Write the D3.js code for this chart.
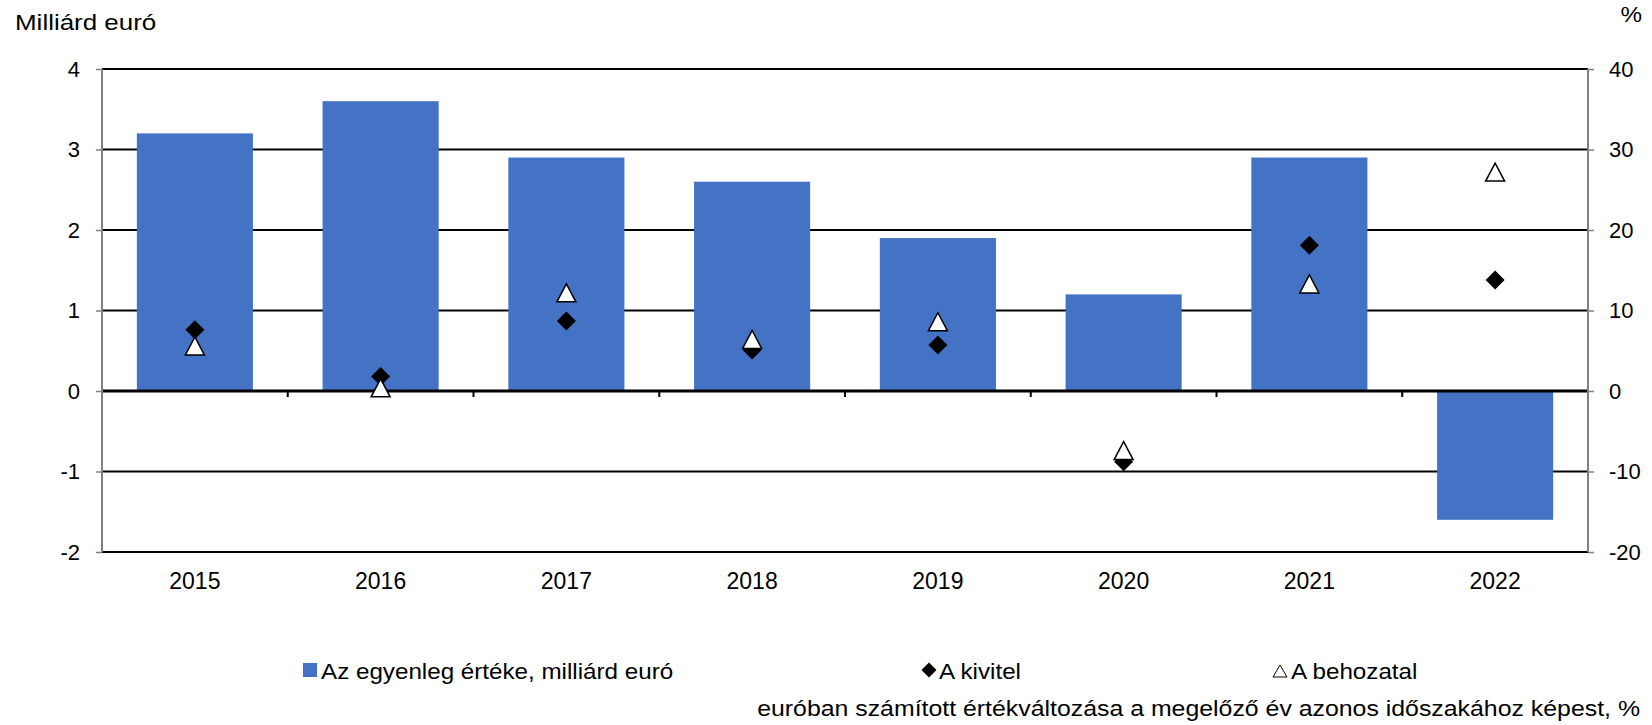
<!DOCTYPE html>
<html>
<head>
<meta charset="utf-8">
<script src="https://cdn.jsdelivr.net/npm/d3@7"></script>
<style>
  body { margin: 0; background: #fff; }
  svg { font-family: "Liberation Sans", Arial, sans-serif; }
</style>
</head>
<body>
<script>
// data
var years = ["2015", "2016", "2017", "2018", "2019", "2020", "2021", "2022"];
var balance = [3.2, 3.6, 2.9, 2.6, 1.9, 1.2, 2.9, -1.6];   // milliárd euró
var exports = [7.6, 1.8, 8.7, 5.1, 5.7, -8.8, 18.1, 13.8];  // %
var imports = [5.6, 0.4, 12.2, 6.4, 8.6, -7.4, 13.3, 27.2]; // %
var leftTicks = [-2, -1, 0, 1, 2, 3, 4];
var rightTicks = [-20, -10, 0, 10, 20, 30, 40];

var W = 1652, H = 725;
var margin = {top: 69, right: 64, bottom: 173, left: 102},
    width = W - margin.left - margin.right,
    height = H - margin.top - margin.bottom;

var svg = d3.select("body").append("svg")
    .attr("width", W)
    .attr("height", H);

var g = svg.append("g")
    .attr("transform", "translate(" + margin.left + "," + margin.top + ")");

// scales
var x = d3.scaleBand().domain(years).range([0, width]).padding(0);
var yL = d3.scaleLinear().domain([-2, 4]).range([height, 0]);
var yR = d3.scaleLinear().domain([-20, 40]).range([height, 0]);
var barW = x.bandwidth() * 0.625;
var fmt = function(d) { return String(d); }; // plain hyphen, as in the original

// gridlines
g.selectAll(".grid")
    .data(leftTicks)
  .enter().append("line")
    .attr("class", "grid")
    .attr("x1", 0)
    .attr("x2", width)
    .attr("y1", function(d) { return yL(d); })
    .attr("y2", function(d) { return yL(d); })
    .attr("stroke", "#000")
    .attr("stroke-width", 2);

// bars
g.selectAll(".bar")
    .data(balance)
  .enter().append("rect")
    .attr("class", "bar")
    .attr("x", function(d, i) { return x(years[i]) + (x.bandwidth() - barW) / 2; })
    .attr("width", barW)
    .attr("y", function(d) { return yL(Math.max(0, d)); })
    .attr("height", function(d) { return Math.abs(yL(d) - yL(0)); })
    .attr("fill", "#4472C4");

// zero line on top of bars
g.append("line")
    .attr("x1", 0).attr("x2", width)
    .attr("y1", yL(0)).attr("y2", yL(0))
    .attr("stroke", "#000")
    .attr("stroke-width", 3);

// category tick marks on the zero line
var bounds = years.map(function(d) { return x(d); }).concat([width]);
g.selectAll(".ctick")
    .data(bounds)
  .enter().append("line")
    .attr("class", "ctick")
    .attr("x1", function(d) { return d; })
    .attr("x2", function(d) { return d; })
    .attr("y1", yL(0))
    .attr("y2", yL(0) + 6)
    .attr("stroke", "#000")
    .attr("stroke-width", 2);

// left axis
var leftAxis = g.append("g")
    .call(d3.axisLeft(yL).tickValues(leftTicks).tickSize(6).tickPadding(16).tickFormat(fmt));
leftAxis.select(".domain").attr("stroke", "#808080").attr("stroke-width", 2).attr("d", "M0," + yL(4) + "V" + yL(-2));
leftAxis.selectAll(".tick line").attr("stroke", "#808080").attr("stroke-width", 1.5);
leftAxis.selectAll(".tick text").attr("font-size", "22px").attr("fill", "#000")
    .attr("font-family", "Liberation Sans, Arial, sans-serif");

// right axis
var rightAxis = g.append("g")
    .attr("transform", "translate(" + width + ",0)")
    .call(d3.axisRight(yR).tickValues(rightTicks).tickSize(6).tickPadding(15).tickFormat(fmt));
rightAxis.select(".domain").attr("stroke", "#808080").attr("stroke-width", 2).attr("d", "M0," + yR(40) + "V" + yR(-20));
rightAxis.selectAll(".tick line").attr("stroke", "#808080").attr("stroke-width", 1.5);
rightAxis.selectAll(".tick text").attr("font-size", "22px").attr("fill", "#000")
    .attr("font-family", "Liberation Sans, Arial, sans-serif");

// category labels
g.selectAll(".xlab")
    .data(years)
  .enter().append("text")
    .attr("class", "xlab")
    .attr("x", function(d) { return x(d) + x.bandwidth() / 2; })
    .attr("y", height + 37)
    .attr("text-anchor", "middle")
    .attr("font-size", "23px")
    .text(function(d) { return d; });

// marker shapes
function diamondPath(r) {
  return "M0," + (-r) + "L" + r + ",0L0," + r + "L" + (-r) + ",0Z";
}
function trianglePath(w, h) {
  return "M0," + (-h / 2) + "L" + (w / 2) + "," + (h / 2) + "L" + (-w / 2) + "," + (h / 2) + "Z";
}

// A kivitel
g.selectAll(".exp")
    .data(exports)
  .enter().append("path")
    .attr("class", "exp")
    .attr("d", diamondPath(9.5))
    .attr("transform", function(d, i) {
      return "translate(" + (x(years[i]) + x.bandwidth() / 2) + "," + yR(d) + ")";
    })
    .attr("fill", "#000");

// A behozatal
g.selectAll(".imp")
    .data(imports)
  .enter().append("path")
    .attr("class", "imp")
    .attr("d", trianglePath(19, 18))
    .attr("transform", function(d, i) {
      return "translate(" + (x(years[i]) + x.bandwidth() / 2) + "," + yR(d) + ")";
    })
    .attr("fill", "#fff")
    .attr("stroke", "#000")
    .attr("stroke-width", 1.5);

// text helper: the original type is a bit wider than Arial
function label(parent, tx, ty, anchor, s, sx) {
  return parent.append("text")
      .attr("transform", "translate(" + tx + "," + ty + ") scale(" + (sx || 1.1) + ",1)")
      .attr("text-anchor", anchor)
      .attr("font-size", "22px")
      .text(s);
}

// axis titles
label(svg, 15, 30, "start", "Milliárd euró", 1.18);
label(svg, 1642, 22, "end", "%");

// legend
var leg = svg.append("g");
leg.append("rect")
    .attr("x", 303).attr("y", 663)
    .attr("width", 14).attr("height", 14)
    .attr("fill", "#4472C4");
label(leg, 321, 679, "start", "Az egyenleg értéke, milliárd euró");

leg.append("path")
    .attr("d", diamondPath(7.5))
    .attr("transform", "translate(929,670)")
    .attr("fill", "#000");
label(leg, 939, 679, "start", "A kivitel");

leg.append("path")
    .attr("d", trianglePath(14, 12))
    .attr("transform", "translate(1280,671)")
    .attr("fill", "#fff")
    .attr("stroke", "#000")
    .attr("stroke-width", 1);
label(leg, 1291, 679, "start", "A behozatal");

label(leg, 1640, 716, "end", "euróban számított értékváltozása a megelőző év azonos időszakához képest, %", 1.13);
</script>
</body>
</html>
